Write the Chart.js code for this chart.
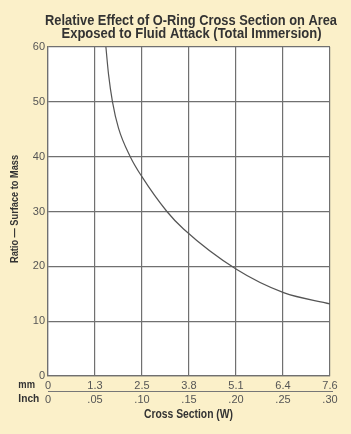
<!DOCTYPE html>
<html>
<head>
<meta charset="utf-8">
<script src="https://cdn.jsdelivr.net/npm/chart.js@4"></script>
<style>
html,body{margin:0;padding:0;background:#FBF0C9;}
#wrap{width:351px;height:434px;}
</style>
</head>
<body>
<div id="wrap"><canvas id="c" width="351" height="434"></canvas></div>
<script>
const titleLines = ['Relative Effect of O-Ring Cross Section on Area', 'Exposed to Fluid Attack (Total Immersion)'];
const yTitle = 'Ratio \u2014 Surface to Mass';
const xTitle = 'Cross Section (W)';
const rowLabels = ['mm', 'Inch'];
const inchTicks = ['0', '.05', '.10', '.15', '.20', '.25', '.30'];
const mmTicks = ['0', '1.3', '2.5', '3.8', '5.1', '6.4', '7.6'];
const crossSectionIn = [0.0616, 0.0644, 0.0686, 0.0750, 0.0875, 0.0999, 0.1265, 0.1442, 0.2000, 0.2506, 0.300];
const ratio = [60, 55, 50, 45.2, 40, 36.35, 30, 26.8, 19.5, 15.2, 13.15];
const yTicks = [0, 10, 20, 30, 40, 50, 60];

const FONT = '"Liberation Sans", Arial, Helvetica, sans-serif';
const points = crossSectionIn.map((x, i) => ({x: x, y: ratio[i]}));

function drawFit(ctx, text, x, y, font, width, align, rot) {
  ctx.save();
  ctx.font = font;
  const w = ctx.measureText(text).width;
  const s = width / w;
  ctx.translate(x, y);
  if (rot) ctx.rotate(rot);
  ctx.scale(s, 1);
  ctx.textAlign = align;
  ctx.textBaseline = 'alphabetic';
  ctx.fillText(text, 0, 0);
  ctx.restore();
}

const decor = {
  id: 'decor',
  beforeDraw(chart) {
    const {ctx, chartArea: a} = chart;
    ctx.save();
    ctx.fillStyle = '#FBF0C9';
    ctx.fillRect(0, 0, chart.width, chart.height);
    ctx.fillStyle = '#FFFFFF';
    ctx.fillRect(a.left, a.top, a.right - a.left, a.bottom - a.top);
    ctx.restore();
  },
  afterDraw(chart) {
    const {ctx, chartArea: a} = chart;
    const cx = (a.left + a.right) / 2;
    ctx.save();
    ctx.fillStyle = '#333333';
    drawFit(ctx, titleLines[0], cx + 2, 24.5, 'bold 14px ' + FONT, 292, 'center', 0);
    drawFit(ctx, titleLines[1], cx + 2.5, 38, 'bold 14px ' + FONT, 260, 'center', 0);
    drawFit(ctx, xTitle, cx - 0.5, 417.5, 'bold 12px ' + FONT, 89, 'center', 0);
    drawFit(ctx, yTitle, 18, (a.top + a.bottom) / 2 - 2.5, 'bold 11px ' + FONT, 108, 'center', -Math.PI / 2);
    drawFit(ctx, rowLabels[0], 18.3, 388.3, 'bold 11px ' + FONT, 16.7, 'left', 0);
    drawFit(ctx, rowLabels[1], 18.3, 402, 'bold 11px ' + FONT, 21, 'left', 0);
    ctx.strokeStyle = '#777777';
    ctx.lineWidth = 1;
    ctx.beginPath();
    ctx.moveTo(a.left, 391.5);
    ctx.lineTo(a.right + 3, 391.5);
    ctx.stroke();
    ctx.restore();
  }
};

new Chart(document.getElementById('c'), {
  type: 'line',
  data: {
    datasets: [{
      data: points,
      borderColor: '#555555',
      borderWidth: 1.2,
      pointRadius: 0,
      fill: false,
      cubicInterpolationMode: 'monotone'
    }]
  },
  options: {
    responsive: false,
    animation: false,
    events: [],
    layout: {padding: {top: 47, right: 21, left: 0, bottom: 0}},
    plugins: {legend: {display: false}, title: {display: false}, tooltip: {enabled: false}},
    scales: {
      x: {
        type: 'linear',
        min: 0, max: 0.30,
        afterBuildTicks(scale) {
          scale.ticks = inchTicks.map((t, i) => ({value: i * 0.05}));
        },
        afterFit(scale) { scale.height = 58; },
        grid: {color: '#707070', lineWidth: 1.2, drawTicks: false},
        border: {color: '#707070', width: 1.2},
        ticks: {
          color: '#555555',
          font: {family: FONT, size: 11, lineHeight: 1.27},
          padding: 3,
          maxRotation: 0,
          autoSkip: false,
          callback(value, index) { return [mmTicks[index], inchTicks[index]]; }
        },
        title: {display: false}
      },
      y: {
        min: 0, max: 60,
        afterBuildTicks(scale) {
          scale.ticks = yTicks.map(v => ({value: v}));
        },
        afterFit(scale) { scale.width = 48; },
        grid: {color: '#707070', lineWidth: 1.2, drawTicks: false},
        border: {color: '#707070', width: 1.2},
        ticks: {
          color: '#555555',
          font: {family: FONT, size: 11},
          padding: 3
        },
        title: {display: false}
      }
    }
  },
  plugins: [decor]
});
</script>
</body>
</html>
